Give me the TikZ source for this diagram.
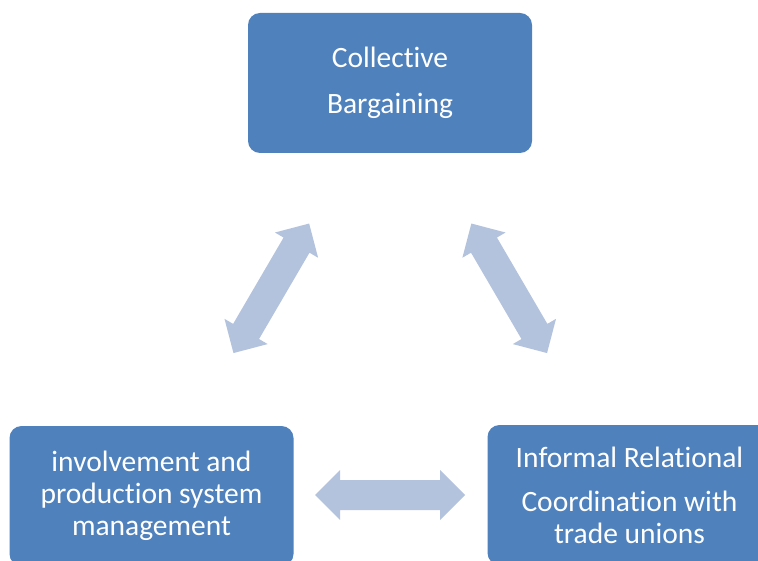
\documentclass[tikz,border=0pt]{standalone}
\usepackage{fontspec}
\setmainfont[Ligatures={NoCommon,NoContextual,NoRequired},Contextuals=NoAlternate,RawFeature={-liga;-clig;-calt}]{Carlito}
\definecolor{boxblue}{HTML}{4F81BD}
\definecolor{arrowblue}{HTML}{B3C2DD}
\begin{document}
\begin{tikzpicture}[x=1pt,y=-1pt,
  blockbox/.style={draw=none,fill=boxblue,rounded corners=12pt,text=white,
    minimum width=284pt,minimum height=140pt,inner sep=0pt,align=center,
    font=\fontsize{29.5}{32}\selectfont},
  dblarrow/.pic={\fill[arrowblue] (-75,0) -- (-50,-25) -- (-50,-15) -- (50,-15) -- (50,-25)
     -- (75,0) -- (50,25) -- (50,15) -- (-50,15) -- (-50,25) -- cycle;}]
\useasboundingbox (0,0) rectangle (758,561);
\clip (0,0) rectangle (758,561);
\fill[white] (0,0) rectangle (758,561);
\node[blockbox] (cb) at (390,83) {Collec\kern0pt tive\\[14pt]Bargaining};
\node[blockbox] (inv) at (151.5,496) {involvement and\\production system\\management};
\node[blockbox] (irc) at (629.5,495) {Informal Relational\\[12pt]Coordination with\\trade unions};
\pic (a1) at (271.3,288.3) [rotate=59.7] {dblarrow};
\pic (a2) at (509.2,288.3) [rotate=-59.7] {dblarrow};
\pic (a3) at (390,495) {dblarrow};
\end{tikzpicture}
\end{document}
